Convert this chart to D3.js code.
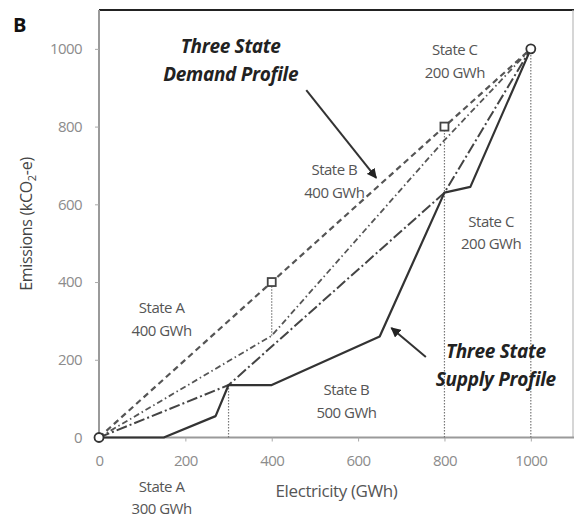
<!DOCTYPE html>
<html>
<head>
<meta charset="utf-8">
<script src="https://cdn.jsdelivr.net/npm/d3@7"></script>
<style>
  html, body { margin: 0; padding: 0; background: #fff; }
  svg { display: block; }
  text { font-family: "Open Sans", "Liberation Sans", sans-serif; }
</style>
</head>
<body>
<svg id="chart" width="574" height="518"></svg>
<script>
// Axis ticks
const xTicks = [0, 200, 400, 600, 800, 1000];
const yTicks = [0, 200, 400, 600, 800, 1000];

// Three state supply profile (electricity GWh, emissions kCO2-e)
const supplyX = [0, 150, 270, 300, 400, 650, 800, 860, 1000];
const supplyY = [0, 0, 55, 135, 135, 260, 630, 645, 1000];

// Chords of the supply profile at the supply state boundaries
const supplyChordX = [0, 300, 800, 1000];
const supplyChordY = [0, 135, 630, 1000];

// Demand profile evaluated at the demand state boundaries
const demandChordX = [0, 400, 800, 1000];
const demandChordY = [0, 262, 765, 1000];

// Average-intensity demand line
const demandAvgX = [0, 400, 800, 1000];
const demandAvgY = [0, 400, 800, 1000];

// End-point circles and demand boundary squares
const circleX = [0, 1000];
const circleY = [0, 1000];
const squareX = [400, 800];
const squareY = [400, 800];

// Vertical guides at the state boundaries
const guideX = [300, 800, 1000, 400];
const guideLow = [0, 0, 0, 262];
const guideHigh = [135, 800, 1000, 400];

// State labels
const stateNames = ["State C", "State B", "State C", "State A", "State B", "State A"];
const stateEnergy = ["200 GWh", "400 GWh", "200 GWh", "400 GWh", "500 GWh", "300 GWh"];
const stateAtX = [824, 545, 908, 145, 573, 145];
const stateAtY = [984, 675, 542, 320, 109, -140];

const svg = d3.select("#chart");
const x = d3.scaleLinear().domain([0, 1100]).range([99, 574]);
const y = d3.scaleLinear().domain([0, 1100]).range([437.5, 10]);

const zip = (xs, ys) => xs.map((v, i) => [v, ys[i]]);
const line = d3.line().x(d => x(d[0])).y(d => y(d[1]));

// Frame: dark top edge, light right edge
svg.append("line").attr("x1", x(0)).attr("x2", x(1100)).attr("y1", y(1100)).attr("y2", y(1100))
  .attr("stroke", "#222").attr("stroke-width", 2);
svg.append("line").attr("x1", x(1100) - 1).attr("x2", x(1100) - 1).attr("y1", y(1100)).attr("y2", y(0))
  .attr("stroke", "#bbb").attr("stroke-width", 1.2);

// Axes
const fmt = d3.format("d");
const xAxis = svg.append("g").attr("transform", `translate(0,${y(0)})`)
  .call(d3.axisBottom(x).tickValues(xTicks).tickFormat(fmt).tickSize(4).tickPadding(14).tickSizeOuter(0));
const yAxis = svg.append("g").attr("transform", `translate(${x(0)},0)`)
  .call(d3.axisLeft(y).tickValues(yTicks).tickFormat(fmt).tickSize(4).tickPadding(13).tickSizeOuter(0));
[xAxis, yAxis].forEach(g => {
  g.select(".domain").attr("stroke", "#9a9a9a").attr("stroke-width", 2);
  g.selectAll(".tick line").attr("stroke", "#aaa").attr("stroke-width", 1);
  g.selectAll(".tick text").attr("fill", "#8c8c8c").style("font-size", "15px")
    .style("font-family", "'Open Sans', sans-serif").attr("letter-spacing", "-0.6");
});
xAxis.select(".domain").attr("d", `M${x(0)},0H${x(1100)}`);
yAxis.select(".domain").attr("d", `M0,${y(0)}V${y(1100)}`);

// Vertical dotted guides
svg.append("g").selectAll("line").data(guideX).join("line")
  .attr("x1", d => x(d)).attr("x2", d => x(d))
  .attr("y1", (d, i) => y(guideLow[i])).attr("y2", (d, i) => y(guideHigh[i]))
  .attr("stroke", "#777").attr("stroke-width", 1.2).attr("stroke-dasharray", "1.5,1.5");

// Profile lines
svg.append("path").attr("d", line(zip(demandAvgX, demandAvgY)))
  .attr("fill", "none").attr("stroke", "#555").attr("stroke-width", 2.2).attr("stroke-dasharray", "6,4");
svg.append("path").attr("d", line(zip(demandChordX, demandChordY)))
  .attr("fill", "none").attr("stroke", "#555").attr("stroke-width", 1.8).attr("stroke-dasharray", "6,3,1.5,3");
svg.append("path").attr("d", line(zip(supplyChordX, supplyChordY)))
  .attr("fill", "none").attr("stroke", "#444").attr("stroke-width", 2).attr("stroke-dasharray", "11,3,2,3");
svg.append("path").attr("d", line(zip(supplyX, supplyY)))
  .attr("fill", "none").attr("stroke", "#333").attr("stroke-width", 2.2).attr("stroke-linejoin", "round");

// Markers
svg.append("g").selectAll("circle").data(circleX).join("circle")
  .attr("cx", d => x(d)).attr("cy", (d, i) => y(circleY[i])).attr("r", 4.5)
  .attr("fill", "#fff").attr("stroke", "#333").attr("stroke-width", 1.8);
svg.append("g").selectAll("rect").data(squareX).join("rect")
  .attr("x", d => x(d) - 4).attr("y", (d, i) => y(squareY[i]) - 4).attr("width", 8).attr("height", 8)
  .attr("fill", "#fff").attr("stroke", "#444").attr("stroke-width", 1.8);

// State labels
const labels = svg.append("g").attr("fill", "#555").style("font-size", "15px").attr("text-anchor", "middle")
  .attr("letter-spacing", "-0.5");
stateNames.forEach((name, i) => {
  const t = labels.append("text").attr("x", x(stateAtX[i])).attr("y", y(stateAtY[i]));
  t.append("tspan").attr("x", x(stateAtX[i])).text(name);
  t.append("tspan").attr("x", x(stateAtX[i])).attr("dy", 22.5).text(stateEnergy[i]);
});

// Profile titles with arrows
svg.append("defs").append("marker").attr("id", "head").attr("viewBox", "0 0 10 10")
  .attr("refX", 9).attr("refY", 5).attr("markerWidth", 5).attr("markerHeight", 5)
  .attr("markerUnits", "strokeWidth").attr("orient", "auto")
  .append("path").attr("d", "M0,0L10,5L0,10Z").attr("fill", "#222");

const titles = [
  { lines: ["Three State", "Demand Profile"], at: [305, 989], from: [480, 894], to: [642, 668] },
  { lines: ["Three State", "Supply Profile"], at: [919, 205], from: [757, 207], to: [677, 282] }
];
titles.forEach(tt => {
  const t = svg.append("text").attr("text-anchor", "middle").attr("fill", "#222")
    .style("font-size", "19px").style("font-weight", "bold").style("font-style", "italic")
    .attr("x", x(tt.at[0])).attr("y", y(tt.at[1])).attr("letter-spacing", "-0.3");
  tt.lines.forEach((s, i) => t.append("tspan").attr("x", x(tt.at[0])).attr("dy", i ? 28 : 0).text(s));
  svg.append("line").attr("x1", x(tt.from[0])).attr("y1", y(tt.from[1]))
    .attr("x2", x(tt.to[0])).attr("y2", y(tt.to[1]))
    .attr("stroke", "#333").attr("stroke-width", 2).attr("marker-end", "url(#head)");
});

// Axis titles
svg.append("text").attr("x", x(550)).attr("y", 497).attr("text-anchor", "middle")
  .attr("fill", "#555").style("font-size", "17px").attr("letter-spacing", "-0.4").text("Electricity (GWh)");
const yt = svg.append("text").attr("transform", "translate(32,224) rotate(-90)").attr("text-anchor", "middle")
  .attr("fill", "#444").style("font-size", "16px").attr("letter-spacing", "-0.3");
yt.append("tspan").text("Emissions (kCO");
yt.append("tspan").attr("dy", 4).style("font-size", "11px").text("2");
yt.append("tspan").attr("dy", -4).text("-e)");

// Panel letter
svg.append("text").attr("x", 13).attr("y", 32).attr("fill", "#111")
  .style("font-size", "20px").style("font-weight", "bold").text("B");
</script>
</body>
</html>
